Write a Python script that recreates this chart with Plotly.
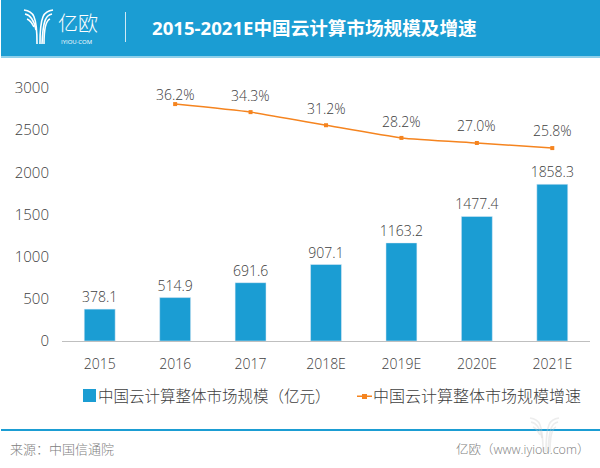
import plotly.graph_objs as go

BLUE = '#1b9dd3'
ORANGE = '#f5841f'
TEXT = '#404040'
GREY = '#808080'
FONT = 'Open Sans, Noto Sans CJK SC'

W, H = 600, 468
L, R, T, B = 62, 10, 88, 127

years = ['2015', '2016', '2017', '2018E', '2019E', '2020E', '2021E']
market = [378.1, 514.9, 691.6, 907.1, 1163.2, 1477.4, 1858.3]
growth = [None, 36.2, 34.3, 31.2, 28.2, 27.0, 25.8]
# подписи над линией сдвинуты вручную, как на исходной картинке
label_shift = [0, 10, 17, 17, 16, 18, 18]


def px(x):
    return (x - L) / (W - L - R)


def py(y):
    return (H - B - y) / (H - T - B)


def logo_path(points):
    # points: начало и кубические сегменты в пикселях
    (x0, y0), rest = points[0], points[1:]
    path = f'M {px(x0):.4f} {py(y0):.4f} C'
    for x, y in rest:
        path += f' {px(x):.4f} {py(y):.4f}'
    return path


def logo(dx, dy, color, opacity=1.0):
    curves = [
        [(24, 10), (33, 11), (37, 15), (37, 44)],
        [(25, 14), (31, 15), (34, 20), (36, 30)],
        [(27, 19), (30, 20), (32, 23), (34, 27)],
        [(53, 10), (44, 11), (40, 15), (40, 44)],
        [(52, 14), (46, 15), (43, 20), (42, 44)],
        [(50, 19), (47, 20), (44, 24), (44, 44)],
    ]
    res = []
    for c in curves:
        c = [(x + dx, y + dy) for x, y in c]
        res.append(dict(type='path', xref='paper', yref='paper', path=logo_path(c),
                        line=dict(color=color, width=1.6), opacity=opacity))
    return res


def rect(x0, y0, x1, y1, color, opacity=1.0):
    return dict(type='rect', xref='paper', yref='paper', x0=px(x0), x1=px(x1), y0=py(y1), y1=py(y0),
                fillcolor=color, line_width=0, opacity=opacity)


def label(text, x, y, size, color, anchor='left', bold=False, weight=None):
    font = dict(size=size, color=color, family=FONT)
    if weight:
        font['weight'] = weight
    return dict(text=f'<b>{text}</b>' if bold else text, xref='paper', yref='paper',
                x=px(x), y=py(y), xanchor=anchor, yanchor='middle', showarrow=False, font=font)


fig = go.Figure()

fig.add_trace(go.Bar(x=years, y=market, marker_color=BLUE, width=0.41, showlegend=False,
                     text=[f'{v:.1f}' for v in market], textposition='outside',
                     constraintext='none', cliponaxis=False,
                     textfont=dict(size=14, color=TEXT, weight=300)))

fig.add_trace(go.Scatter(x=years, y=growth, yaxis='y2', mode='lines+markers', showlegend=False,
                         line=dict(color=ORANGE, width=1.5, shape='spline', smoothing=0.5),
                         marker=dict(color=ORANGE, size=4, symbol='square')))

# x здесь номер категории: строка '2016' была бы понята как число
annotations = [
    dict(text=f'{g:.1f}%', x=i, y=g, xref='x', yref='y2', showarrow=False, yanchor='middle',
         yshift=s, font=dict(size=14, color=TEXT, weight=300))
    for i, (g, s) in enumerate(zip(growth, label_shift)) if g is not None
]
annotations += [
    label('2015-2021E中国云计算市场规模及增速', 150, 27, 18.6, 'white', bold=True),
    label('亿欧', 56, 24, 20, 'white', weight=300),
    label('IYIOU·COM', 59, 42, 6, 'white'),
    label('中国云计算整体市场规模（亿元）', 96, 396, 15.5, TEXT, weight=300),
    label('中国云计算整体市场规模增速', 371, 396, 16, TEXT, weight=300),
    label('来源：中国信通院', 8, 449, 13, GREY, weight=300),
    label('亿欧（www.iyiou.com）', 591, 449, 12.5, GREY, anchor='right', weight=300),
]

shapes = [
    rect(1, 0, 600, 56, BLUE),
    rect(1, 56, 600, 58, '#8fd0ea'),
    rect(1, 429, 600, 431, BLUE),
    rect(83, 389, 96, 402, BLUE),
    rect(357, 395.5, 372, 397, ORANGE),
    rect(362, 394, 367, 399, ORANGE),
    dict(type='line', xref='paper', yref='paper', x0=px(125.5), x1=px(125.5), y0=py(42), y1=py(12),
         line=dict(color='#cfe9f5', width=1)),
] + logo(0, 0, 'white') + logo(506, 408, '#cccccc', 0.35)

fig.update_layout(
    width=W, height=H,
    margin=dict(l=L, r=R, t=T, b=B),
    paper_bgcolor='white', plot_bgcolor='white',
    font=dict(family=FONT, size=14, color=TEXT),
    xaxis=dict(type='category', range=[-0.5, 6.5], showline=True, linecolor='#bfbfbf', linewidth=1, ticks='',
               ticklabelstandoff=10, tickfont=dict(size=14, color=TEXT, weight=300)),
    yaxis=dict(range=[0, 3000], dtick=500, showgrid=False, zeroline=False,
               ticklabelstandoff=12, tickfont=dict(size=15, color=TEXT, weight=300)),
    yaxis2=dict(range=[-19.8, 40], overlaying='y', side='right', visible=False),
    shapes=shapes,
    annotations=annotations,
)

fig.write_html("out.html", post_script="document.body.style.margin='0';",
               config={'displayModeBar': False})
